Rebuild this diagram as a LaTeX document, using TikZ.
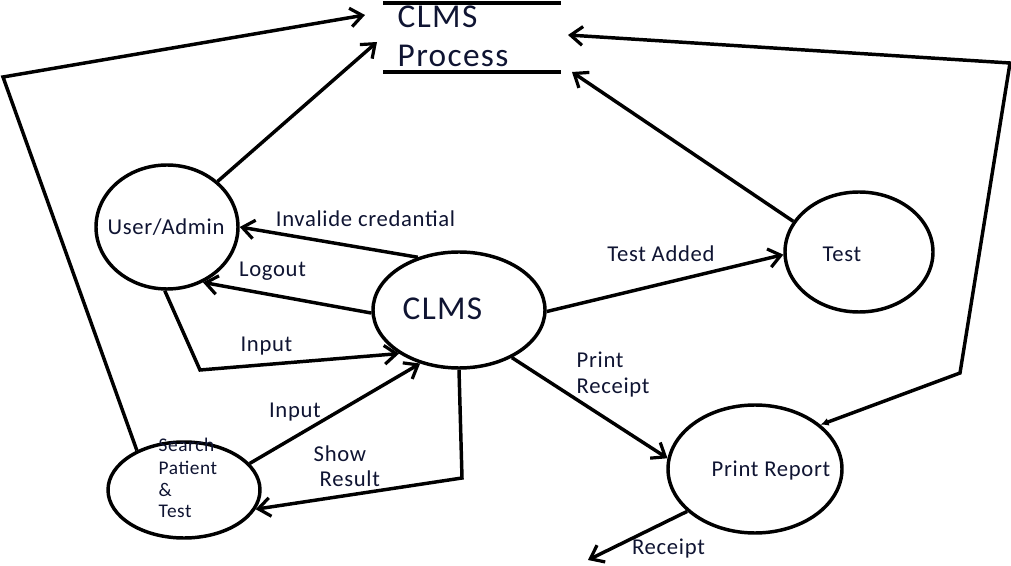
\documentclass[tikz,border=0pt]{standalone}
\usepackage{fontspec}
\setmainfont{Carlito}
\newfontfamily\lblfont{Carlito}[LetterSpace=3]
\newfontfamily\bigfont{Carlito}[LetterSpace=4]
\usetikzlibrary{shapes.geometric,arrows.meta,calc}
\definecolor{txt}{RGB}{15,20,50}
\begin{document}
\begin{tikzpicture}[x=0.75pt,y=-0.75pt,
  line width=2.6pt,
  ell/.style={draw, ellipse, inner sep=0pt, line width=2.6pt},
  lbl/.style={font=\lblfont\fontsize{17}{20}\selectfont, text=txt, inner sep=0pt},
  big/.style={font=\bigfont\fontsize{25}{29}\selectfont, text=txt, inner sep=0pt},
  small/.style={font=\lblfont\fontsize{14.5}{17}\selectfont, text=txt, inner sep=0pt},
  arr/.style={-{Straight Barb[length=9pt,width=14pt,line width=2.4pt]}},
  dot/.style={{Latex[length=6pt,width=6pt]}-{Straight Barb[length=9pt,width=14pt,line width=2.4pt]}},
]
\useasboundingbox (0,0) rectangle (1011,566);

% process store
\node[minimum width=178*0.75pt, minimum height=69*0.75pt, inner sep=0pt, outer sep=0pt] (proc) at (472,37.5) {};
\draw (proc.north west) -- (proc.north east);
\draw (proc.south west) -- (proc.south east);
\node[big, anchor=base west] (procA) at (396,28) {CLMS};
\node[big, anchor=base west] (procB) at (396,67) {Process};

% ellipses
\node[ell, minimum width=142*0.75pt, minimum height=124*0.75pt] (ua) at (167,227) {};
\node[ell, minimum width=172*0.75pt, minimum height=116*0.75pt] (clms) at (459,310) {};
\node[ell, minimum width=148*0.75pt, minimum height=120*0.75pt] (test) at (859,252) {};
\node[ell, minimum width=174*0.75pt, minimum height=128*0.75pt] (pr) at (755,469) {};
\node[ell, minimum width=152*0.75pt, minimum height=96*0.75pt] (sp) at (184,490) {};

% texts in ellipses
\node[lbl, anchor=base] (t-ua) at (166,235) {User/Admin};
\node[big, anchor=base] (t-clms) at (442.5,320) {CLMS};
\node[lbl, anchor=base] (t-test) at (842,262) {Test};
\node[lbl, anchor=base] (t-pr) at (771,477) {Print Report};
\node[small, anchor=base west] (t-sp1) at (157,452) {Search};
\node[small, anchor=base west] (t-sp2) at (157,475) {Patient};
\node[small, anchor=base west] (t-sp3) at (157,497) {\&};
\node[small, anchor=base west] (t-sp4) at (157,518) {Test};

% free coordinates
\coordinate (cL) at (3,77);
\coordinate (cR1) at (960,373);
\coordinate (cR2) at (1010,63);
\coordinate (cI) at (200,370);
\coordinate (cS) at (462,478);
\coordinate (rcpt) at (588,560);

% connectors
\draw[arr] (sp.140) -- (cL) -- ($(proc.north west)+(-18,12)$);
\draw[arr] (ua.42) -- ($(proc.west)+(-6,4.5)$);
\draw[arr] (test.155) -- ($(proc.south east)+(11,0)$);
\draw[dot] (pr.34) -- (cR1) -- (cR2) -- ($(proc.east)+(7,-2.5)$);
\draw[arr] (clms.128) -- (ua.0);
\draw[arr] (clms.182) -- (ua.303);
\draw[arr] (ua.268) -- (cI) -- (clms.216);
\draw[arr] (sp.22) -- (clms.234);
\draw[arr] (clms.270) -- (cS) -- (sp.345);
\draw[arr] (clms.359) -- (test.182);
\draw[arr] (clms.318) -- (pr.173);
\draw[arr] (pr.212) -- (rcpt);

% labels
\node[lbl, anchor=base] (l-inv) at (365.5,227) {Invalide credantial};
\node[lbl, anchor=base] (l-logout) at (272.5,277) {Logout};
\node[lbl, anchor=base] (l-in1) at (266.5,352) {Input};
\node[lbl, anchor=base] (l-in2) at (295,418) {Input};
\node[lbl, anchor=base west] (l-show) at (312,462) {Show};
\node[lbl, anchor=base west] (l-result) at (318,487) {Result};
\node[lbl, anchor=base] (l-added) at (661,262) {Test Added};
\node[lbl, anchor=base west] (l-print) at (575,368) {Print};
\node[lbl, anchor=base west] (l-prc) at (575,394) {Receipt};
\node[lbl, anchor=base] (l-rcpt) at (668.5,555) {Receipt};
\end{tikzpicture}
\end{document}
